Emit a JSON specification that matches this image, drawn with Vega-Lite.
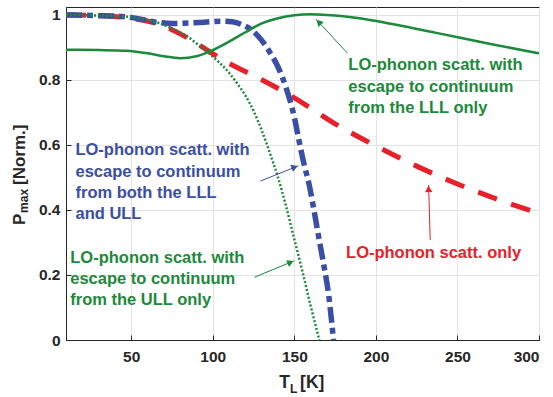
{
  "$schema": "https://vega.github.io/schema/vega-lite/v6.json",
  "autosize": "none",
  "width": 473,
  "height": 333,
  "padding": {"left": 66, "top": 7, "right": 14, "bottom": 57},
  "background": "white",
  "config": {
    "font": "Liberation Sans",
    "view": {"stroke": "#262626", "strokeWidth": 1},
    "axis": {
      "labelFont": "Liberation Sans",
      "labelFontWeight": "bold",
      "labelFontSize": 15.5,
      "labelColor": "#262626",
      "domainColor": "#262626",
      "tickColor": "#262626",
      "gridColor": "#e3e3e3",
      "gridWidth": 1,
      "tickSize": -5,
      "title": null
    }
  },
  "datasets": {
    "curves": [
      {"s": "LLL", "T": 10, "P": 0.893}, {"s": "LLL", "T": 30, "P": 0.892}, {"s": "LLL", "T": 47, "P": 0.89},
      {"s": "LLL", "T": 60, "P": 0.882}, {"s": "LLL", "T": 70, "P": 0.873}, {"s": "LLL", "T": 80, "P": 0.867},
      {"s": "LLL", "T": 90, "P": 0.873}, {"s": "LLL", "T": 100, "P": 0.892}, {"s": "LLL", "T": 110, "P": 0.918},
      {"s": "LLL", "T": 120, "P": 0.947}, {"s": "LLL", "T": 130, "P": 0.974}, {"s": "LLL", "T": 140, "P": 0.99},
      {"s": "LLL", "T": 150, "P": 0.999}, {"s": "LLL", "T": 160, "P": 1.002}, {"s": "LLL", "T": 170, "P": 1.0},
      {"s": "LLL", "T": 180, "P": 0.996}, {"s": "LLL", "T": 190, "P": 0.99}, {"s": "LLL", "T": 210, "P": 0.972},
      {"s": "LLL", "T": 237, "P": 0.945}, {"s": "LLL", "T": 268, "P": 0.913}, {"s": "LLL", "T": 300, "P": 0.882},

      {"s": "ULL", "T": 10, "P": 1.0}, {"s": "ULL", "T": 25, "P": 0.999}, {"s": "ULL", "T": 40, "P": 0.997},
      {"s": "ULL", "T": 55, "P": 0.99}, {"s": "ULL", "T": 67, "P": 0.975}, {"s": "ULL", "T": 75, "P": 0.958},
      {"s": "ULL", "T": 84, "P": 0.935}, {"s": "ULL", "T": 92, "P": 0.905}, {"s": "ULL", "T": 100, "P": 0.872},
      {"s": "ULL", "T": 110, "P": 0.822}, {"s": "ULL", "T": 115, "P": 0.789}, {"s": "ULL", "T": 120, "P": 0.752},
      {"s": "ULL", "T": 125, "P": 0.705}, {"s": "ULL", "T": 130, "P": 0.645}, {"s": "ULL", "T": 135, "P": 0.575},
      {"s": "ULL", "T": 140, "P": 0.5}, {"s": "ULL", "T": 145, "P": 0.41}, {"s": "ULL", "T": 150, "P": 0.31},
      {"s": "ULL", "T": 155, "P": 0.21}, {"s": "ULL", "T": 160, "P": 0.105}, {"s": "ULL", "T": 165.3, "P": 0.0},

      {"s": "LO", "T": 10, "P": 1.0}, {"s": "LO", "T": 30, "P": 0.998}, {"s": "LO", "T": 50, "P": 0.99},
      {"s": "LO", "T": 65, "P": 0.975}, {"s": "LO", "T": 80, "P": 0.942}, {"s": "LO", "T": 90, "P": 0.913},
      {"s": "LO", "T": 100, "P": 0.881}, {"s": "LO", "T": 110, "P": 0.851}, {"s": "LO", "T": 120, "P": 0.826},
      {"s": "LO", "T": 130, "P": 0.801}, {"s": "LO", "T": 150, "P": 0.745}, {"s": "LO", "T": 175, "P": 0.665},
      {"s": "LO", "T": 200, "P": 0.597}, {"s": "LO", "T": 225, "P": 0.535}, {"s": "LO", "T": 250, "P": 0.48},
      {"s": "LO", "T": 275, "P": 0.432}, {"s": "LO", "T": 300, "P": 0.39},

      {"s": "BOTH", "T": 10, "P": 1.0}, {"s": "BOTH", "T": 30, "P": 0.998}, {"s": "BOTH", "T": 45, "P": 0.995},
      {"s": "BOTH", "T": 55, "P": 0.988}, {"s": "BOTH", "T": 65, "P": 0.978}, {"s": "BOTH", "T": 75, "P": 0.974},
      {"s": "BOTH", "T": 85, "P": 0.975}, {"s": "BOTH", "T": 95, "P": 0.978}, {"s": "BOTH", "T": 105, "P": 0.981},
      {"s": "BOTH", "T": 112, "P": 0.979}, {"s": "BOTH", "T": 118, "P": 0.97}, {"s": "BOTH", "T": 124, "P": 0.953},
      {"s": "BOTH", "T": 130, "P": 0.922}, {"s": "BOTH", "T": 135, "P": 0.885}, {"s": "BOTH", "T": 140, "P": 0.84},
      {"s": "BOTH", "T": 145, "P": 0.775}, {"s": "BOTH", "T": 150, "P": 0.685}, {"s": "BOTH", "T": 153, "P": 0.61},
      {"s": "BOTH", "T": 156, "P": 0.54}, {"s": "BOTH", "T": 159, "P": 0.48}, {"s": "BOTH", "T": 162, "P": 0.4},
      {"s": "BOTH", "T": 165, "P": 0.315}, {"s": "BOTH", "T": 168, "P": 0.232}, {"s": "BOTH", "T": 171, "P": 0.14},
      {"s": "BOTH", "T": 174, "P": 0.0}
    ],
    "notes": [
      {"kind": "green", "T": 183.1, "P": 0.846, "label": "LO-phonon scatt. with"},
      {"kind": "green", "T": 183.1, "P": 0.778, "label": "escape to continuum"},
      {"kind": "green", "T": 183.1, "P": 0.714, "label": "from the LLL only"},
      {"kind": "blue", "T": 15.8, "P": 0.585, "label": "LO-phonon scatt. with"},
      {"kind": "blue", "T": 15.8, "P": 0.517, "label": "escape to continuum"},
      {"kind": "blue", "T": 15.8, "P": 0.452, "label": "from both the LLL"},
      {"kind": "blue", "T": 15.8, "P": 0.388, "label": "and ULL"},
      {"kind": "green", "T": 12.6, "P": 0.253, "label": "LO-phonon scatt. with"},
      {"kind": "green", "T": 12.6, "P": 0.187, "label": "escape to continuum"},
      {"kind": "green", "T": 12.6, "P": 0.123, "label": "from the ULL only"},
      {"kind": "red", "T": 181.7, "P": 0.267, "label": "LO-phonon scatt. only"}
    ],
    "arrows": [
      {"id": "a1", "kind": "green", "T": 182.5, "P": 0.883, "T2": 163.3, "P2": 0.987, "hT": 165.0, "hP": 0.978},
      {"id": "a2", "kind": "blue", "T": 129.2, "P": 0.489, "T2": 152.5, "P2": 0.536, "hT": 150.2, "hP": 0.532},
      {"id": "a3", "kind": "green", "T": 125.5, "P": 0.193, "T2": 150.0, "P2": 0.244, "hT": 147.7, "hP": 0.239},
      {"id": "a4", "kind": "red", "T": 233.3, "P": 0.308, "T2": 232.3, "P2": 0.477, "hT": 232.3, "hP": 0.465}
    ],
    "titles": [
      {"part": "T", "T": 140.8, "P": -0.148},
      {"part": "[K]", "T": 153.5, "P": -0.148}
    ],
    "subs": [
      {"part": "L", "T": 147.4, "P": -0.163}
    ],
    "ytitles": [
      {"part": "P", "T": -15.4, "P": 0.354},
      {"part": "[Norm.]", "T": -15.4, "P": 0.477}
    ],
    "ysubs": [
      {"part": "max", "T": -13.6, "P": 0.391}
    ]
  },
  "encoding": {
    "x": {"field": "T", "type": "quantitative",
      "scale": {"domain": [10, 300], "nice": false, "zero": false},
      "axis": {"values": [50, 100, 150, 200, 250, 300], "labelPadding": 14, "grid": true}},
    "y": {"field": "P", "type": "quantitative",
      "scale": {"domain": [0, 1.0246], "nice": false, "zero": false},
      "axis": {"values": [0, 0.2, 0.4, 0.6, 0.8, 1], "labelPadding": 11, "grid": true,
        "labelExpr": "datum.value == 0 ? '0' : (datum.value == 1 ? '1' : format(datum.value, '.1f'))"}}
  },
  "layer": [
    {"data": {"name": "curves"}, "transform": [{"filter": "datum.s == 'LO'"}],
      "mark": {"type": "line", "interpolate": "monotone", "color": "#e8202a", "strokeWidth": 5, "strokeDash": [20, 15]}},
    {"data": {"name": "curves"}, "transform": [{"filter": "datum.s == 'BOTH'"}],
      "mark": {"type": "line", "interpolate": "monotone", "color": "#3a4ea5", "strokeWidth": 5.5, "strokeDash": [16, 5, 6, 5]}},
    {"data": {"name": "curves"}, "transform": [{"filter": "datum.s == 'ULL'"}],
      "mark": {"type": "line", "interpolate": "monotone", "color": "#1b8a3a", "strokeWidth": 2.5, "strokeDash": [2, 2]}},
    {"data": {"name": "curves"}, "transform": [{"filter": "datum.s == 'LLL'"}],
      "mark": {"type": "line", "interpolate": "monotone", "color": "#1b8a3a", "strokeWidth": 2.5}},
    {"data": {"name": "arrows"},
      "mark": {"type": "rule", "strokeWidth": 1},
      "encoding": {
        "x2": {"field": "T2"}, "y2": {"field": "P2"},
        "color": {"field": "kind", "type": "nominal", "legend": null,
          "scale": {"domain": ["green", "blue", "red"], "range": ["#1b8a3a", "#3a4ea5", "#e8202a"]}}}},
    {"data": {"name": "arrows"}, "transform": [{"filter": "datum.id == 'a1'"}],
      "mark": {"type": "point", "shape": "triangle-up", "filled": true, "size": 55, "angle": 317, "color": "#1b8a3a", "opacity": 1},
      "encoding": {"x": {"field": "hT", "type": "quantitative"}, "y": {"field": "hP", "type": "quantitative"}}},
    {"data": {"name": "arrows"}, "transform": [{"filter": "datum.id == 'a2'"}],
      "mark": {"type": "point", "shape": "triangle-up", "filled": true, "size": 55, "angle": 68, "color": "#3a4ea5", "opacity": 1},
      "encoding": {"x": {"field": "hT", "type": "quantitative"}, "y": {"field": "hP", "type": "quantitative"}}},
    {"data": {"name": "arrows"}, "transform": [{"filter": "datum.id == 'a3'"}],
      "mark": {"type": "point", "shape": "triangle-up", "filled": true, "size": 55, "angle": 67.5, "color": "#1b8a3a", "opacity": 1},
      "encoding": {"x": {"field": "hT", "type": "quantitative"}, "y": {"field": "hP", "type": "quantitative"}}},
    {"data": {"name": "arrows"}, "transform": [{"filter": "datum.id == 'a4'"}],
      "mark": {"type": "point", "shape": "triangle-up", "filled": true, "size": 55, "angle": 358, "color": "#e8202a", "opacity": 1},
      "encoding": {"x": {"field": "hT", "type": "quantitative"}, "y": {"field": "hP", "type": "quantitative"}}},
    {"data": {"name": "notes"},
      "mark": {"type": "text", "align": "left", "baseline": "middle", "fontSize": 16.5, "fontWeight": "bold", "font": "Liberation Sans"},
      "encoding": {
        "text": {"field": "label"},
        "color": {"field": "kind", "type": "nominal", "legend": null,
          "scale": {"domain": ["green", "blue", "red"], "range": ["#1b8a3a", "#3a4ea5", "#e8202a"]}}}},
    {"data": {"name": "titles"},
      "mark": {"type": "text", "align": "left", "baseline": "alphabetic", "fontSize": 17.5, "fontWeight": "bold", "color": "#262626"},
      "encoding": {"text": {"field": "part"}}},
    {"data": {"name": "subs"},
      "mark": {"type": "text", "align": "left", "baseline": "alphabetic", "fontSize": 12, "fontWeight": "bold", "color": "#262626"},
      "encoding": {"text": {"field": "part"}}},
    {"data": {"name": "ytitles"},
      "mark": {"type": "text", "align": "left", "baseline": "alphabetic", "fontSize": 17, "fontWeight": "bold", "color": "#262626", "angle": 270},
      "encoding": {"text": {"field": "part"}}},
    {"data": {"name": "ysubs"},
      "mark": {"type": "text", "align": "left", "baseline": "alphabetic", "fontSize": 12, "fontWeight": "bold", "color": "#262626", "angle": 270},
      "encoding": {"text": {"field": "part"}}}
  ]
}
